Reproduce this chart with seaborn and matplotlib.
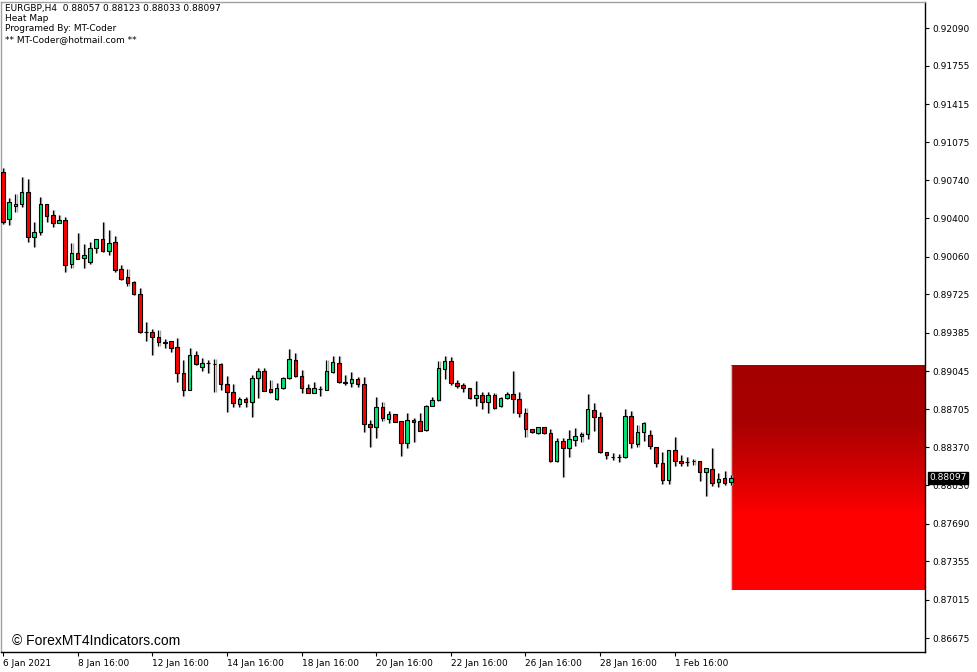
import numpy as np
import matplotlib
matplotlib.use('Agg')
import matplotlib.pyplot as plt
import matplotlib.transforms as mtransforms
from matplotlib.colors import LinearSegmentedColormap
import seaborn as sns

# EURGBP H4 candles (6 Jan 16:00 -> 3 Feb 04:00)
opens = [0.90812, 0.90395, 0.90510, 0.90528, 0.90635, 0.90235, 0.90280, 0.90528, 0.90430, 0.90360,
         0.90386, 0.89996, 0.90093, 0.90049, 0.90013, 0.90138, 0.90217, 0.90111, 0.90191, 0.89951,
         0.89880, 0.89836, 0.89729, 0.89392, 0.89392, 0.89347, 0.89294, 0.89312, 0.89259, 0.89028,
         0.88877, 0.89188, 0.89081, 0.89117, 0.89108, 0.89108, 0.88930, 0.88859, 0.88753, 0.88797,
         0.88770, 0.88983, 0.89046, 0.88886, 0.88797, 0.88895, 0.88983, 0.89143, 0.89001, 0.88895,
         0.88850, 0.88886, 0.88877, 0.89037, 0.89117, 0.88948, 0.88939, 0.88975, 0.88930, 0.88575,
         0.88549, 0.88726, 0.88620, 0.88664, 0.88602, 0.88406, 0.88611, 0.88602, 0.88522, 0.88735,
         0.88788, 0.89063, 0.89134, 0.88939, 0.88921, 0.88895, 0.88806, 0.88833, 0.88770, 0.88833,
         0.88735, 0.88806, 0.88841, 0.88797, 0.88673, 0.88531, 0.88495, 0.88549, 0.88495, 0.88247,
         0.88424, 0.88362, 0.88433, 0.88469, 0.88486, 0.88699, 0.88637, 0.88327, 0.88282, 0.88282,
         0.88282, 0.88646, 0.88398, 0.88504, 0.88478, 0.88371, 0.88229, 0.88078, 0.88344, 0.88247,
         0.88238, 0.88247, 0.88247, 0.88149, 0.88176, 0.88060, 0.88096, 0.88057]
highs = [0.90848, 0.90581, 0.90617, 0.90768, 0.90750, 0.90368, 0.90590, 0.90528, 0.90475, 0.90430,
         0.90413, 0.90182, 0.90271, 0.90173, 0.90191, 0.90217, 0.90368, 0.90297, 0.90244, 0.89987,
         0.89951, 0.89845, 0.89782, 0.89481, 0.89418, 0.89410, 0.89330, 0.89312, 0.89339, 0.89143,
         0.89250, 0.89223, 0.89161, 0.89143, 0.89152, 0.89117, 0.89001, 0.88930, 0.88815, 0.88815,
         0.89010, 0.89072, 0.89072, 0.88966, 0.88939, 0.88992, 0.89241, 0.89205, 0.89055, 0.88930,
         0.88948, 0.88913, 0.89143, 0.89179, 0.89179, 0.89010, 0.89037, 0.88992, 0.88992, 0.88611,
         0.88815, 0.88770, 0.88691, 0.88664, 0.88602, 0.88673, 0.88628, 0.88673, 0.88744, 0.88815,
         0.89134, 0.89179, 0.89170, 0.88966, 0.88939, 0.88895, 0.88957, 0.88859, 0.88859, 0.88850,
         0.88815, 0.88859, 0.89046, 0.88859, 0.88717, 0.88531, 0.88549, 0.88549, 0.88531, 0.88451,
         0.88451, 0.88522, 0.88540, 0.88504, 0.88841, 0.88762, 0.88682, 0.88327, 0.88318, 0.88309,
         0.88708, 0.88691, 0.88566, 0.88593, 0.88522, 0.88371, 0.88327, 0.88344, 0.88460, 0.88300,
         0.88282, 0.88264, 0.88247, 0.88185, 0.88362, 0.88140, 0.88158, 0.88123]
lows = [0.90351, 0.90342, 0.90457, 0.90501, 0.90191, 0.90146, 0.90253, 0.90368, 0.90324, 0.90360,
        0.89924, 0.89960, 0.90040, 0.89960, 0.89996, 0.90093, 0.90102, 0.90075, 0.89924, 0.89853,
        0.89800, 0.89720, 0.89383, 0.89312, 0.89188, 0.89268, 0.89250, 0.89214, 0.88948, 0.88824,
        0.88877, 0.89099, 0.89046, 0.89028, 0.88859, 0.88877, 0.88682, 0.88726, 0.88726, 0.88726,
        0.88637, 0.88806, 0.88868, 0.88850, 0.88788, 0.88886, 0.88975, 0.88992, 0.88850, 0.88849,
        0.88849, 0.88824, 0.88876, 0.89028, 0.88939, 0.88921, 0.88904, 0.88904, 0.88504, 0.88371,
        0.88451, 0.88602, 0.88584, 0.88592, 0.88291, 0.88362, 0.88415, 0.88513, 0.88513, 0.88735,
        0.88779, 0.88975, 0.88921, 0.88895, 0.88859, 0.88797, 0.88735, 0.88708, 0.88673, 0.88708,
        0.88726, 0.88797, 0.88673, 0.88637, 0.88460, 0.88495, 0.88486, 0.88486, 0.88238, 0.88238,
        0.88105, 0.88282, 0.88380, 0.88415, 0.88442, 0.88513, 0.88318, 0.88264, 0.88256, 0.88238,
        0.88273, 0.88362, 0.88371, 0.88424, 0.88353, 0.88193, 0.88042, 0.88042, 0.88202, 0.88202,
        0.88202, 0.88211, 0.88069, 0.87936, 0.88025, 0.88016, 0.88034, 0.88033]
closes = [0.90368, 0.90546, 0.90528, 0.90635, 0.90235, 0.90280, 0.90528, 0.90422, 0.90360, 0.90386,
          0.89987, 0.90093, 0.90040, 0.90075, 0.90138, 0.90217, 0.90111, 0.90182, 0.89942, 0.89862,
          0.89827, 0.89729, 0.89392, 0.89390, 0.89347, 0.89303, 0.89303, 0.89250, 0.89028, 0.88877,
          0.89188, 0.89108, 0.89117, 0.89116, 0.89107, 0.88930, 0.88859, 0.88762, 0.88797, 0.88770,
          0.88983, 0.89046, 0.88868, 0.88859, 0.88895, 0.88983, 0.89152, 0.89001, 0.88895, 0.88850,
          0.88895, 0.88887, 0.89046, 0.89126, 0.88948, 0.88939, 0.88975, 0.88930, 0.88575, 0.88549,
          0.88726, 0.88628, 0.88664, 0.88593, 0.88406, 0.88611, 0.88593, 0.88513, 0.88735, 0.88788,
          0.89072, 0.89134, 0.88939, 0.88913, 0.88895, 0.88806, 0.88833, 0.88770, 0.88833, 0.88717,
          0.88806, 0.88841, 0.88797, 0.88673, 0.88531, 0.88504, 0.88549, 0.88495, 0.88247, 0.88424,
          0.88362, 0.88442, 0.88469, 0.88486, 0.88708, 0.88637, 0.88327, 0.88300, 0.88281, 0.88283,
          0.88646, 0.88406, 0.88504, 0.88584, 0.88380, 0.88229, 0.88078, 0.88344, 0.88247, 0.88229,
          0.88237, 0.88246, 0.88149, 0.88185, 0.88051, 0.88087, 0.88051, 0.88097]

# axis ticks
price_ticks = [0.92090, 0.91755, 0.91415, 0.91075, 0.90740, 0.90400, 0.90060, 0.89725, 0.89385,
               0.89045, 0.88705, 0.88370, 0.88030, 0.87690, 0.87355, 0.87015, 0.86675]
time_ticks = [0, 12, 24, 36, 48, 60, 72, 84, 96, 108]
time_labels = ['6 Jan 2021', '8 Jan 16:00', '12 Jan 16:00', '14 Jan 16:00', '18 Jan 16:00',
               '20 Jan 16:00', '22 Jan 16:00', '26 Jan 16:00', '28 Jan 16:00', '1 Feb 16:00']

# heat map zone (price levels and their colours)
heat_top = 0.89098
heat_bottom = 0.87101
heat_levels = [0.87101, 0.87770, 0.88000, 0.88320, 0.88600, 0.89098]
heat_colors = ['#ff0000', '#fe0000', '#e40000', '#c30000', '#a80000', '#a50000']

header = ['EURGBP,H4  0.88057 0.88123 0.88033 0.88097', 'Heat Map',
          'Programed By: MT-Coder', '** MT-Coder@hotmail.com **']

sns.set_style('white')
plt.rcParams['font.family'] = ['DejaVu Sans']
plt.rcParams['text.color'] = 'black'
plt.rcParams['xtick.color'] = 'black'
plt.rcParams['ytick.color'] = 'black'

W, H = 977, 672
fig = plt.figure(figsize=(W / 100, H / 100), dpi=100)
ax = fig.add_axes([1 / W, 20 / H, 924 / W, 650 / H])

idx = np.arange(len(opens))
o = np.array(opens)
c = np.array(closes)
up = c >= o
body_col = np.where(up, '#00e676', '#ff0000')
body_bot = np.minimum(o, c)
body_h = np.maximum(np.abs(c - o), 0.00002)

# heat zone drawn behind the candles
positions = [(v - heat_bottom) / (heat_top - heat_bottom) for v in heat_levels]
cmap = LinearSegmentedColormap.from_list('heat', list(zip(positions, heat_colors)))
grad = np.linspace(0, 1, 400).reshape(-1, 1)
x_right = 148.23
ax.imshow(grad, cmap=cmap, vmin=0, vmax=1, origin='lower', aspect='auto',
          extent=[idx[-1], x_right, heat_bottom, heat_top], zorder=1)
ax.vlines(idx[-1], heat_bottom, heat_top, color='#c8c8c8', lw=1, zorder=1.5)

# candles: grey shadow, black wick, coloured body
ax.vlines(idx + 0.18, lows, highs, color='#a8a8a8', lw=1, zorder=2)
ax.vlines(idx, lows, highs, color='black', lw=0.9, zorder=3)
ax.bar(idx, body_h, bottom=body_bot, width=0.58, color=body_col,
       edgecolor='black', linewidth=0.8, zorder=4)

ax.set_xlim(-0.32, x_right)
ax.set_ylim(0.86551, 0.92321)

# axes / ticks
ax.yaxis.tick_right()
ax.set_yticks(price_ticks)
ax.set_yticklabels(['%.5f' % p for p in price_ticks])
ax.set_xticks(time_ticks)
ax.set_xticklabels(time_labels, ha='left')
ax.tick_params(axis='y', direction='out', length=3, pad=2, labelsize=6.5,
               right=True, left=False, color='black', labelcolor='black')
ax.tick_params(axis='x', direction='out', length=3, pad=2, labelsize=6.5,
               bottom=True, color='black', labelcolor='black')
ax.grid(False)
for side in ['left', 'top']:
    ax.spines[side].set_color('#a0a0a0')
for side in ['right', 'bottom']:
    ax.spines[side].set_color('black')
for s in ax.spines.values():
    s.set_linewidth(1)
    s.set_visible(True)

# current price tag
trans = mtransforms.blended_transform_factory(ax.transAxes, ax.transData)
ax.text((929 - 1) / 924, closes[-1], '%.5f' % closes[-1], transform=trans, color='white',
        fontsize=6.5, va='center', ha='left', clip_on=False, zorder=10,
        bbox=dict(boxstyle='square,pad=0.15', fc='black', ec='black'))

# header text
for k, line in enumerate(header):
    fig.text(5 / W, 1 - (8 + 10.4 * k) / H, line, fontsize=6.5, va='center', ha='left',
             color='black')

fig.text(12 / W, 1 - 641 / H, '\u00a9 ForexMT4Indicators.com', fontsize=10,
         family=['Liberation Sans', 'DejaVu Sans'], va='center', ha='left', color='black')

fig.savefig('out.png', dpi=100, facecolor='white')
